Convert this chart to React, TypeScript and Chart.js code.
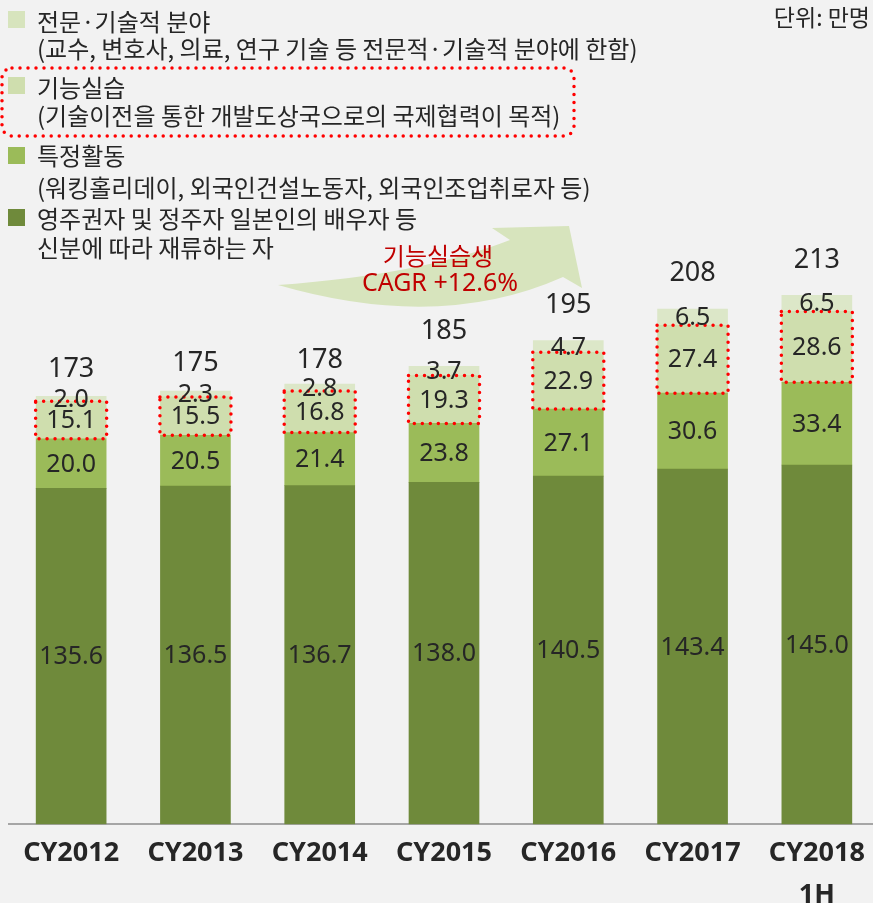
import React, { useEffect, useRef } from "react";
import { Chart, registerables } from "chart.js";

Chart.register(...registerables);

// ---- data ----
const categories: (string | string[])[] = ["CY2012", "CY2013", "CY2014", "CY2015", "CY2016", "CY2017", ["CY2018", "1H"]];
const permanentResidents = [135.6, 136.5, 136.7, 138.0, 140.5, 143.4, 145.0];
const specificActivities = [20.0, 20.5, 21.4, 23.8, 27.1, 30.6, 33.4];
const technicalIntern = [15.1, 15.5, 16.8, 19.3, 22.9, 27.4, 28.6];
const professional = [2.0, 2.3, 2.8, 3.7, 4.7, 6.5, 6.5];
const totals = [173, 175, 178, 185, 195, 208, 213];

const seriesTitles = ["전문·기술적 분야", "기능실습", "특정활동", "영주권자 및 정주자 일본인의 배우자 등"];
const seriesNotes = [
  "(교수, 변호사, 의료, 연구 기술 등 전문적·기술적 분야에 한함)",
  "(기술이전을 통한 개발도상국으로의 국제협력이 목적)",
  "(워킹홀리데이, 외국인건설노동자, 외국인조업취로자 등)",
  "신분에 따라 재류하는 자",
];
const unitText = "단위: 만명";
const cagrTitle = "기능실습생";
const cagrText = "CAGR +12.6%";

const COLORS = {
  professional: "#dce7c8",
  intern: "#cfdeae",
  specific: "#9bbb59",
  permanent: "#6f8a3b",
};
const LEGEND_COLORS = ["#d7e4bd", "#cfdeae", "#9bbb59", "#6f8a3b"];

const NUM_FONT = "'Noto Sans', 'Noto Sans CJK KR', sans-serif";
const KR_FONT = "'Noto Sans CJK KR', 'Noto Sans', sans-serif";
const TEXT = "#262626";

// gap (px) between each bar top and the centre of its total label
const TOTAL_LABEL_GAP = [27, 28, 24, 35, 35, 36, 35];

const annotationPlugin = {
  id: "annotations",
  beforeDatasetsDraw(chart: any) {
    const ctx = chart.ctx as CanvasRenderingContext2D;
    ctx.save();
    // CAGR arrow
    ctx.fillStyle = "#d7e4bd";
    ctx.beginPath();
    ctx.moveTo(278, 285);
    ctx.quadraticCurveTo(420, 275, 510, 240);
    ctx.lineTo(492, 228);
    ctx.lineTo(569, 226);
    ctx.lineTo(582, 288);
    ctx.lineTo(563, 277);
    ctx.quadraticCurveTo(440, 332, 278, 285);
    ctx.closePath();
    ctx.fill();
    ctx.restore();
  },
  afterDatasetsDraw(chart: any) {
    const ctx = chart.ctx as CanvasRenderingContext2D;
    ctx.save();

    // dotted red boxes around the intern segments
    const internMeta = chart.getDatasetMeta(2);
    ctx.strokeStyle = "#ff0000";
    ctx.lineWidth = 3.5;
    ctx.lineCap = "round";
    ctx.setLineDash([0, 8]);
    internMeta.data.forEach((bar: any) => {
      const { x, y, base, width } = bar.getProps(["x", "y", "base", "width"], true);
      ctx.strokeRect(x - width / 2 - 0.5, y, width + 1, base - y);
    });
    // dotted box around legend entry
    ctx.beginPath();
    (ctx as any).roundRect(2, 68, 572, 68, 10);
    ctx.stroke();
    ctx.setLineDash([]);

    // segment labels
    ctx.fillStyle = TEXT;
    ctx.textAlign = "center";
    ctx.textBaseline = "middle";
    ctx.font = `25px ${NUM_FONT}`;
    chart.data.datasets.forEach((ds: any, i: number) => {
      const meta = chart.getDatasetMeta(i);
      meta.data.forEach((bar: any, j: number) => {
        const { x, y, base } = bar.getProps(["x", "y", "base"], true);
        ctx.fillText((ds.data[j] as number).toFixed(1), x, (y + base) / 2 + 1);
      });
    });

    // totals
    const topMeta = chart.getDatasetMeta(chart.data.datasets.length - 1);
    ctx.font = `27px ${NUM_FONT}`;
    topMeta.data.forEach((bar: any, j: number) => {
      const { x, y } = bar.getProps(["x", "y"], true);
      ctx.fillText(String(totals[j]), x, y - TOTAL_LABEL_GAP[j]);
    });

    // CAGR text
    ctx.fillStyle = "#c00000";
    ctx.font = `24px ${KR_FONT}`;
    ctx.fillText(cagrTitle, 438, 256);
    ctx.font = `25px ${NUM_FONT}`;
    ctx.fillText(cagrText, 440, 284);

    ctx.restore();
  },
};

export default function App() {
  const ref = useRef<HTMLCanvasElement>(null);

  useEffect(() => {
    document.documentElement.style.overflow = "hidden";
    document.body.style.overflow = "hidden";
    document.body.style.background = "#f2f2f2";
    const chart = new Chart(ref.current as HTMLCanvasElement, {
      type: "bar",
      data: {
        labels: categories as any,
        datasets: [
          { label: seriesTitles[3], data: permanentResidents, backgroundColor: COLORS.permanent, barThickness: 70 },
          { label: seriesTitles[2], data: specificActivities, backgroundColor: COLORS.specific, barThickness: 70 },
          { label: seriesTitles[1], data: technicalIntern, backgroundColor: COLORS.intern, barThickness: 70 },
          { label: seriesTitles[0], data: professional, backgroundColor: COLORS.professional, barThickness: 70 },
        ],
      },
      options: {
        animation: false,
        responsive: false,
        maintainAspectRatio: false,
        layout: { padding: { top: 81, left: 9, right: 1, bottom: 16 } },
        plugins: { legend: { display: false }, tooltip: { enabled: false } },
        scales: {
          x: {
            stacked: true,
            grid: { display: false, drawTicks: false },
            border: { display: true, color: "#a6a6a6", width: 2 },
            ticks: {
              color: TEXT,
              padding: 8,
              autoSkip: false,
              maxRotation: 0,
              font: { family: NUM_FONT, size: 27, weight: "bold", lineHeight: 1.55 },
            },
          },
          y: { stacked: true, display: false, min: 0, max: 300 },
        },
      },
      plugins: [annotationPlugin],
    });
    return () => chart.destroy();
  }, []);

  const legendTops = [11, 77, 147, 209];
  const titleCenters = [21, 87, 155, 218];
  const noteCenters = [48, 115, 187, 247];

  return (
    <div style={{ position: "absolute", left: 0, top: 0, width: 873, height: 903, overflow: "hidden", background: "#f2f2f2" }}>
      <canvas ref={ref} width={880} height={940} style={{ position: "absolute", left: 0, top: 0, width: 880, height: 940 }} />
      {seriesTitles.map((t, i) => (
        <React.Fragment key={t}>
          <div style={{ position: "absolute", left: 8, top: legendTops[i], width: 17, height: 17, background: LEGEND_COLORS[i] }} />
          <div style={{ position: "absolute", left: 37, top: titleCenters[i] - 16, height: 32, lineHeight: "32px", fontFamily: KR_FONT, fontSize: 24, color: TEXT, whiteSpace: "nowrap" }}>{t}</div>
          <div style={{ position: "absolute", left: 37, top: noteCenters[i] - 16, height: 32, lineHeight: "32px", fontFamily: KR_FONT, fontSize: 24, color: TEXT, whiteSpace: "nowrap" }}>{seriesNotes[i]}</div>
        </React.Fragment>
      ))}
      <div style={{ position: "absolute", right: 3, top: 0, lineHeight: "32px", fontFamily: KR_FONT, fontSize: 23, color: TEXT, whiteSpace: "nowrap" }}>{unitText}</div>
    </div>
  );
}
